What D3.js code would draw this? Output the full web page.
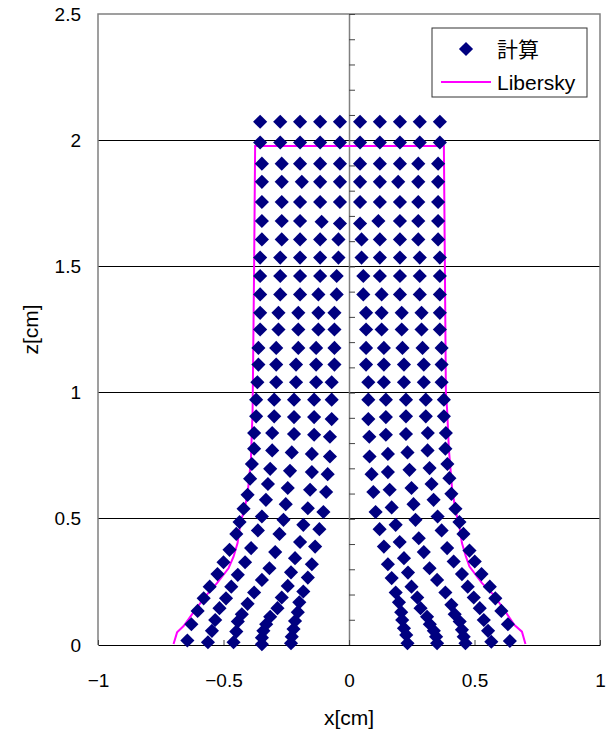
<!DOCTYPE html>
<html>
<head>
<meta charset="utf-8">
<script src="https://cdn.jsdelivr.net/npm/d3@7"></script>
<style>
  html, body { margin: 0; padding: 0; background: #fff; }
  svg { display: block; }
  text { font-family: "Liberation Sans", Arial, sans-serif; fill: #000; }
</style>
</head>
<body>
<div id="chart"></div>
<script>
// Computed particle positions [x, z] in cm, one array per particle column
// (left side outer -> inner, right side inner -> outer).
const colL1 = [[-0.354,2.073],[-0.354,1.991],[-0.347,1.907],[-0.347,1.835],[-0.347,1.755],[-0.347,1.680],[-0.347,1.607],[-0.354,1.535],[-0.354,1.462],[-0.354,1.389],[-0.354,1.316],[-0.354,1.250],[-0.361,1.177],[-0.361,1.111],[-0.365,1.041],[-0.370,0.972],[-0.370,0.906],[-0.378,0.840],[-0.378,0.778],[-0.387,0.717],[-0.394,0.659],[-0.404,0.595],[-0.420,0.540],[-0.436,0.487],[-0.449,0.440],[-0.476,0.377],[-0.500,0.328],[-0.524,0.281],[-0.555,0.231],[-0.579,0.185],[-0.603,0.135],[-0.628,0.082],[-0.644,0.018]];
const colL2 = [[-0.274,2.073],[-0.274,1.991],[-0.268,1.907],[-0.268,1.835],[-0.268,1.755],[-0.268,1.680],[-0.268,1.607],[-0.274,1.535],[-0.274,1.462],[-0.274,1.389],[-0.281,1.316],[-0.281,1.250],[-0.290,1.177],[-0.290,1.111],[-0.290,1.041],[-0.298,0.972],[-0.298,0.906],[-0.306,0.840],[-0.306,0.771],[-0.314,0.698],[-0.323,0.638],[-0.331,0.575],[-0.347,0.509],[-0.363,0.454],[-0.390,0.384],[-0.414,0.328],[-0.443,0.278],[-0.469,0.231],[-0.490,0.185],[-0.516,0.146],[-0.533,0.099],[-0.546,0.056],[-0.562,0.011]];
const colL3 = [[-0.195,2.073],[-0.195,1.991],[-0.195,1.907],[-0.188,1.835],[-0.195,1.755],[-0.195,1.680],[-0.195,1.607],[-0.195,1.535],[-0.195,1.462],[-0.195,1.389],[-0.202,1.316],[-0.202,1.250],[-0.202,1.177],[-0.211,1.111],[-0.211,1.041],[-0.219,0.972],[-0.219,0.903],[-0.219,0.836],[-0.228,0.763],[-0.235,0.690],[-0.244,0.622],[-0.252,0.558],[-0.261,0.496],[-0.277,0.440],[-0.294,0.368],[-0.317,0.304],[-0.347,0.258],[-0.378,0.208],[-0.404,0.163],[-0.427,0.122],[-0.443,0.093],[-0.449,0.053],[-0.460,0.011]];
const colL4 = [[-0.115,2.073],[-0.115,1.991],[-0.115,1.907],[-0.115,1.835],[-0.115,1.755],[-0.109,1.677],[-0.115,1.607],[-0.115,1.535],[-0.115,1.462],[-0.122,1.389],[-0.122,1.316],[-0.122,1.250],[-0.131,1.177],[-0.131,1.111],[-0.131,1.041],[-0.139,0.972],[-0.139,0.903],[-0.139,0.833],[-0.148,0.757],[-0.148,0.685],[-0.155,0.615],[-0.164,0.542],[-0.182,0.476],[-0.195,0.408],[-0.215,0.344],[-0.231,0.288],[-0.244,0.234],[-0.268,0.188],[-0.285,0.146],[-0.314,0.112],[-0.330,0.082],[-0.341,0.056],[-0.347,0.029],[-0.347,0.003]];
const colL5 = [[-0.036,2.073],[-0.036,1.991],[-0.036,1.907],[-0.036,1.835],[-0.036,1.755],[-0.036,1.670],[-0.042,1.607],[-0.042,1.535],[-0.049,1.462],[-0.049,1.389],[-0.058,1.316],[-0.058,1.250],[-0.058,1.177],[-0.058,1.111],[-0.069,1.041],[-0.069,0.972],[-0.069,0.895],[-0.076,0.825],[-0.076,0.747],[-0.085,0.677],[-0.091,0.606],[-0.102,0.527],[-0.118,0.459],[-0.135,0.390],[-0.148,0.320],[-0.164,0.267],[-0.182,0.212],[-0.198,0.169],[-0.204,0.130],[-0.215,0.095],[-0.221,0.063],[-0.228,0.033],[-0.231,0.007]];
const colR1 = [[0.044,2.073],[0.044,1.991],[0.044,1.907],[0.044,1.835],[0.044,1.755],[0.044,1.670],[0.050,1.607],[0.050,1.535],[0.057,1.462],[0.057,1.389],[0.068,1.316],[0.068,1.250],[0.068,1.177],[0.068,1.111],[0.077,1.041],[0.077,0.972],[0.077,0.895],[0.081,0.825],[0.082,0.747],[0.090,0.677],[0.097,0.606],[0.106,0.527],[0.122,0.459],[0.139,0.390],[0.155,0.320],[0.170,0.265],[0.186,0.208],[0.199,0.169],[0.208,0.130],[0.212,0.099],[0.219,0.066],[0.228,0.040],[0.233,0.007]];
const colR2 = [[0.123,2.073],[0.123,1.991],[0.123,1.907],[0.123,1.835],[0.123,1.755],[0.117,1.680],[0.123,1.607],[0.123,1.535],[0.123,1.462],[0.130,1.389],[0.130,1.316],[0.130,1.250],[0.139,1.177],[0.139,1.111],[0.139,1.041],[0.147,0.972],[0.147,0.903],[0.147,0.833],[0.155,0.757],[0.155,0.685],[0.162,0.615],[0.170,0.545],[0.186,0.476],[0.202,0.408],[0.219,0.344],[0.235,0.287],[0.249,0.231],[0.272,0.188],[0.285,0.146],[0.311,0.112],[0.322,0.082],[0.338,0.056],[0.347,0.033],[0.351,0.007]];
const colR3 = [[0.203,2.073],[0.203,1.991],[0.203,1.907],[0.196,1.835],[0.203,1.755],[0.203,1.680],[0.203,1.607],[0.203,1.535],[0.203,1.462],[0.203,1.389],[0.210,1.316],[0.210,1.250],[0.213,1.177],[0.219,1.111],[0.219,1.041],[0.227,0.972],[0.227,0.906],[0.227,0.836],[0.233,0.763],[0.241,0.694],[0.249,0.622],[0.257,0.558],[0.265,0.496],[0.278,0.423],[0.298,0.368],[0.321,0.304],[0.351,0.258],[0.384,0.208],[0.408,0.159],[0.421,0.122],[0.441,0.093],[0.450,0.060],[0.457,0.033],[0.464,0.007]];
const colR4 = [[0.282,2.073],[0.282,1.991],[0.276,1.907],[0.276,1.835],[0.276,1.755],[0.276,1.680],[0.276,1.607],[0.282,1.535],[0.282,1.462],[0.282,1.389],[0.289,1.316],[0.289,1.250],[0.293,1.177],[0.298,1.111],[0.298,1.041],[0.306,0.972],[0.306,0.906],[0.314,0.840],[0.313,0.771],[0.321,0.701],[0.329,0.638],[0.337,0.575],[0.353,0.509],[0.369,0.454],[0.391,0.384],[0.417,0.331],[0.450,0.281],[0.473,0.231],[0.497,0.188],[0.521,0.146],[0.537,0.099],[0.554,0.056],[0.567,0.013]];
const colR5 = [[0.362,2.073],[0.362,1.991],[0.355,1.907],[0.355,1.835],[0.355,1.755],[0.355,1.680],[0.355,1.607],[0.362,1.535],[0.362,1.462],[0.362,1.389],[0.362,1.316],[0.362,1.250],[0.369,1.177],[0.369,1.111],[0.369,1.041],[0.378,0.972],[0.378,0.906],[0.386,0.840],[0.384,0.778],[0.392,0.717],[0.400,0.661],[0.408,0.599],[0.424,0.540],[0.440,0.487],[0.456,0.440],[0.480,0.374],[0.501,0.331],[0.528,0.281],[0.561,0.231],[0.583,0.185],[0.607,0.135],[0.633,0.082],[0.641,0.016]];

// Libersky reference outline, left foot -> top -> right foot
const liberskyX = [-0.699,-0.685,-0.659,-0.619,-0.573,-0.526,-0.480,-0.460,-0.444,-0.433,-0.414,-0.404,-0.391,-0.384,-0.378,-0.374,
                    0.378, 0.382, 0.386, 0.391, 0.398, 0.411, 0.424, 0.441, 0.450, 0.466, 0.480, 0.530, 0.577, 0.623, 0.659, 0.689, 0.703];
const liberskyZ = [0.004,0.050,0.075,0.130,0.192,0.245,0.304,0.350,0.404,0.480,0.550,0.600,0.730,0.930,1.500,1.977,
                   1.977,1.500,1.000,0.930,0.774,0.615,0.536,0.463,0.404,0.350,0.311,0.245,0.198,0.132,0.079,0.053,0.004];

// Axis ticks and labels
const xTicks = [-1, -0.5, 0, 0.5, 1];
const zTicks = [0, 0.5, 1, 1.5, 2, 2.5];
const seriesNames = ["計算", "Libersky"];
const xTitle = "x[cm]";
const zTitle = "z[cm]";

const W = 606, H = 740;
const plot = { left: 98, right: 600, top: 14, bottom: 645 };
const tickFont = "19px";
const titleFont = "21px";

const svg = d3.select("#chart").append("svg")
  .attr("width", W).attr("height", H);
svg.append("rect").attr("width", W).attr("height", H).attr("fill", "#fff");

const x = d3.scaleLinear().domain([-1, 1]).range([plot.left, plot.right]);
const z = d3.scaleLinear().domain([0, 2.5]).range([plot.bottom, plot.top]);

const fmt = d3.format("");

// horizontal gridlines
svg.append("g")
  .selectAll("line")
  .data(zTicks.filter(v => v > 0 && v < 2.5))
  .join("line")
  .attr("x1", plot.left).attr("x2", plot.right)
  .attr("y1", d => z(d)).attr("y2", d => z(d))
  .attr("stroke", "#000").attr("stroke-width", 1)
  .attr("shape-rendering", "crispEdges");

// plot area frame (left, top, right)
svg.append("path")
  .attr("d", `M${plot.left},${plot.bottom}V${plot.top}H${plot.right}V${plot.bottom}`)
  .attr("fill", "none").attr("stroke", "#808080").attr("stroke-width", 1.5);

// vertical axis through x = 0 with minor ticks every 0.1
const zAxisCenter = svg.append("g")
  .attr("transform", `translate(${x(0)},0)`)
  .call(d3.axisRight(z).tickValues(d3.range(0, 26).map(i => i / 10))
    .tickSize(6).tickSizeOuter(0).tickFormat(""));
zAxisCenter.select(".domain").attr("stroke", "#808080").attr("stroke-width", 1.5);
zAxisCenter.selectAll(".tick line").attr("stroke", "#444");

// bottom axis at z = 0, ticks pointing inward
const xAxis = svg.append("g")
  .attr("transform", `translate(0,${z(0)})`)
  .call(d3.axisBottom(x).tickValues(xTicks).tickFormat(fmt)
    .tickSizeInner(-5).tickSizeOuter(0).tickPadding(29));
xAxis.select(".domain").attr("stroke", "#000").attr("stroke-width", 1.2);
xAxis.selectAll(".tick line").attr("stroke", "#444");
xAxis.selectAll("text")
  .style("font-family", "'Liberation Sans', Arial, sans-serif")
  .style("font-size", tickFont).attr("fill", "#000");

// left tick labels
const zAxis = svg.append("g")
  .attr("transform", `translate(${plot.left},0)`)
  .call(d3.axisLeft(z).tickValues(zTicks).tickFormat(fmt).tickSize(0).tickPadding(17));
zAxis.select(".domain").remove();
zAxis.selectAll("text")
  .style("font-family", "'Liberation Sans', Arial, sans-serif")
  .style("font-size", tickFont).attr("fill", "#000");

// Libersky outline
const libPts = liberskyX.map((v, i) => [v, liberskyZ[i]]);
svg.append("path")
  .datum(libPts)
  .attr("fill", "none").attr("stroke", "#ff00ff").attr("stroke-width", 2)
  .attr("d", d3.line().x(d => x(d[0])).y(d => z(d[1])));

// computed particles
const diamond = d3.symbol().type(d3.symbolSquare).size(100);
const allPts = [colL1, colL2, colL3, colL4, colL5, colR1, colR2, colR3, colR4, colR5].flat();
svg.append("g")
  .selectAll("path")
  .data(allPts)
  .join("path")
  .attr("d", diamond)
  .attr("transform", d => `translate(${x(d[0])},${z(d[1])}) rotate(45)`)
  .attr("fill", "#000080");

// axis titles
svg.append("text")
  .attr("x", x(0)).attr("y", 725)
  .attr("text-anchor", "middle")
  .style("font-size", titleFont)
  .text(xTitle);
svg.append("text")
  .attr("transform", `translate(38,${(plot.top + plot.bottom) / 2}) rotate(-90)`)
  .attr("text-anchor", "middle")
  .style("font-size", titleFont)
  .text(zTitle);

// legend
const lg = svg.append("g");
lg.append("rect")
  .attr("x", 432).attr("y", 28).attr("width", 155).attr("height", 69)
  .attr("fill", "#fff").attr("stroke", "#333").attr("stroke-width", 1);
lg.append("path")
  .attr("d", diamond)
  .attr("transform", "translate(466,49) rotate(45)")
  .attr("fill", "#000080");
lg.append("text")
  .attr("x", 497).attr("y", 49).attr("dy", "0.36em")
  .style("font-family", "'Noto Sans CJK JP', sans-serif")
  .style("font-size", "21px")
  .text(seriesNames[0]);
lg.append("line")
  .attr("x1", 441).attr("x2", 491).attr("y1", 82).attr("y2", 82)
  .attr("stroke", "#ff00ff").attr("stroke-width", 2);
lg.append("text")
  .attr("x", 497).attr("y", 82).attr("dy", "0.36em")
  .style("font-size", "21px")
  .text(seriesNames[1]);
</script>
</body>
</html>
